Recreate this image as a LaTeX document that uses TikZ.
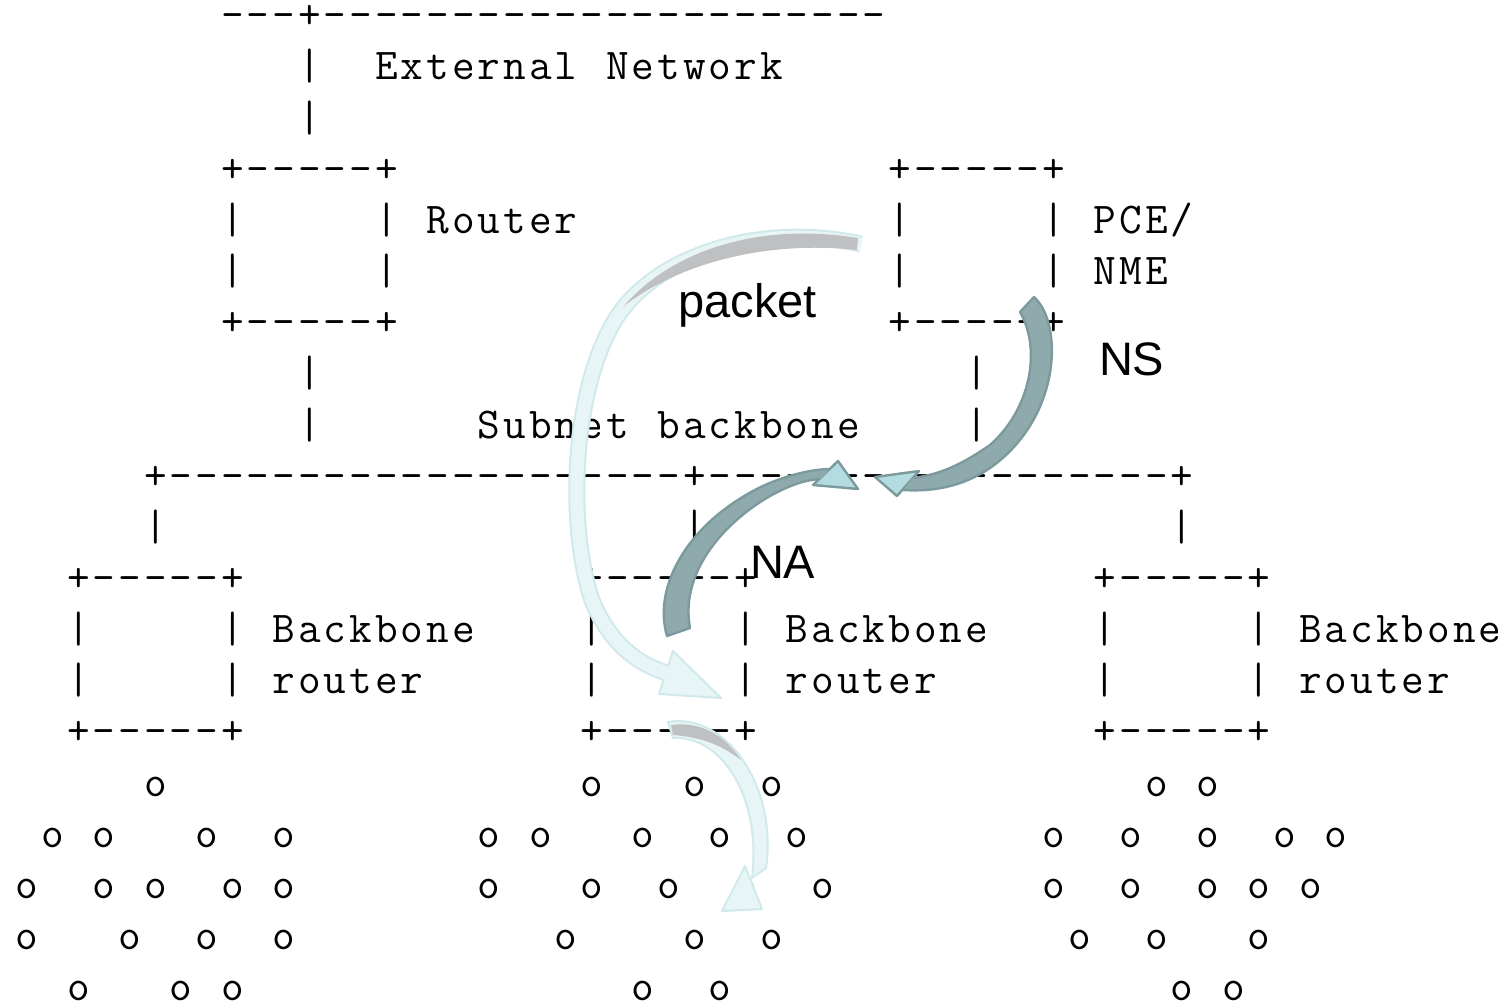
\documentclass[tikz,border=0pt]{standalone}
\usepackage{fontspec}
\setmainfont{Liberation Sans}
\definecolor{pktfill}{HTML}{E8F5F6}
\definecolor{pktedge}{HTML}{D0E9EB}
\definecolor{pktgray}{HTML}{BEC0C1}
\definecolor{nsbody}{HTML}{8FAAAD}
\definecolor{nsedge}{HTML}{7C9A9D}
\definecolor{nshead}{HTML}{B2DCE0}
\ExplSyntaxOn
\dim_new:N \l_cellw_dim
\dim_set:Nn \l_cellw_dim {12.835pt}
\NewDocumentCommand\mono{m}{\str_map_inline:nn {#1}{\makebox[\l_cellw_dim][c]{##1}}}
\ExplSyntaxOff
\tikzset{
  asc/.style={anchor=base west, inner sep=0pt, outer sep=0pt, font=\ttfamily\fontsize{22}{26}\selectfont},
  lbl/.style={anchor=base west, inner sep=0pt, outer sep=0pt, font=\fontsize{23.5}{28}\selectfont},
  darkhead/.style={fill=nshead, draw=nsedge, line width=1.2pt, line join=round},
  darkbody/.style={fill=nsbody},
  darkedge/.style={draw=nsedge, line width=1.2pt, line join=round},
  palehead/.style={fill=pktfill, draw=pktedge, line width=1pt, line join=round},
}
\newcommand\ascii[4]{\node[asc] (#1) at ({14.2+25.67*(#2)},{28.8+51.15*(#3)}) {\mono{#4}};}
\begin{document}
\begin{tikzpicture}[x=0.5pt,y=-0.5pt]
\useasboundingbox (0,0) rectangle (1510,1007);
\fill[white] (0,0) rectangle (1510,1007);
% ---------- ASCII art ----------
\ascii{top}{8}{0}{---+----------------------}
\ascii{extbar1}{11}{1}{|}
\ascii{ext}{14}{1}{External Network}
\ascii{extbar2}{11}{2}{|}
\ascii{rtA}{8}{3}{+-----+}
\ascii{pceA}{34}{3}{+-----+}
\ascii{rtL1}{8}{4}{|}
\ascii{rtR1}{14}{4}{|}
\ascii{rtlbl}{16}{4}{Router}
\ascii{pceL1}{34}{4}{|}
\ascii{pceR1}{40}{4}{|}
\ascii{pcelbl}{42}{4}{PCE/}
\ascii{rtL2}{8}{5}{|}
\ascii{rtR2}{14}{5}{|}
\ascii{pceL2}{34}{5}{|}
\ascii{pceR2}{40}{5}{|}
\ascii{nmelbl}{42}{5}{NME}
\ascii{rtB}{8}{6}{+-----+}
\ascii{pceB}{34}{6}{+-----+}
\ascii{rtv1}{11}{7}{|}
\ascii{pcev1}{37}{7}{|}
\ascii{rtv2}{11}{8}{|}
\ascii{sub}{18}{8}{Subnet backbone}
\ascii{pcev2}{37}{8}{|}
\ascii{bus}{5}{9}{+--------------------+------------------+}
\ascii{dv1}{5}{10}{|}
\ascii{dv2}{26}{10}{|}
\ascii{dv3}{45}{10}{|}
\foreach \c/\n in {2/a,22/b,42/c}{
  \ascii{bbT\n}{\c}{11}{+-----+}
  \ascii{bbL1\n}{\c}{12}{|}
  \ascii{bbR1\n}{\c+6}{12}{|}
  \ascii{bbLa\n}{\c+8}{12}{Backbone}
  \ascii{bbL2\n}{\c}{13}{|}
  \ascii{bbR2\n}{\c+6}{13}{|}
  \ascii{bbLb\n}{\c+8}{13}{router}
  \ascii{bbB\n}{\c}{14}{+-----+}
}
\foreach \c in {5,22,26,29,44,46} {\ascii{o15-\c}{\c}{15}{o}}
\foreach \c in {1,3,7,10,18,20,24,27,30,40,43,46,49,51} {\ascii{o16-\c}{\c}{16}{o}}
\foreach \c in {0,3,5,8,10,18,22,25,28,31,40,43,46,48,50} {\ascii{o17-\c}{\c}{17}{o}}
\foreach \c in {0,4,7,10,21,26,29,41,44,48} {\ascii{o18-\c}{\c}{18}{o}}
\foreach \c in {2,6,8,24,27,45,47} {\ascii{o19-\c}{\c}{19}{o}}
% ---------- packet arrow ----------
\coordinate (pktTail) at (861,244);
\coordinate (pktEnd) at (667,673);
\draw[pktedge, line width=8.5pt] (pktTail) .. controls (760,222) and (655,255) .. (615,320) .. controls (570,395) and (568,530) .. (592,600) .. controls (610,645) and (640,665) .. (pktEnd);
\filldraw[palehead] (673,651) -- (721,698) -- (659,694) -- cycle;
\draw[pktfill, line width=6.5pt] (pktTail) .. controls (760,222) and (655,255) .. (615,320) .. controls (570,395) and (568,530) .. (592,600) .. controls (610,645) and (640,665) .. (pktEnd);
\fill[pktgray] (858,238) .. controls (760,222) and (672,250) .. (624,306) .. controls (678,264) and (765,240) .. (857,250) -- cycle;
\node[lbl, anchor=base] (packet) at (747.5,317) {packet};
% ---------- NS arrow ----------
\filldraw[darkhead] (875,477) -- (919,471) -- (897,496) -- cycle;
\fill[darkbody] (1034,297) .. controls (1062,322) and (1062,410) .. (998,462) .. controls (968,486) and (935,492) .. (903,490) -- (913,478) .. controls (945,474) and (968,460) .. (990,445) .. controls (1030,410) and (1042,350) .. (1020,312) -- cycle;
\draw[darkedge] (903,490) .. controls (935,492) and (968,486) .. (998,462) .. controls (1062,410) and (1062,322) .. (1034,297) -- (1020,312) .. controls (1042,350) and (1030,410) .. (990,445) .. controls (968,460) and (945,474) .. (913,478);
\node[lbl] (ns) at (1099,375) {NS};
% ---------- NA arrow ----------
\filldraw[darkhead] (838,461) -- (858,489) -- (813,485) -- cycle;
\fill[darkbody] (667,636) .. controls (652,585) and (690,520) .. (765,485) .. controls (790,474) and (815,469) .. (830,469) -- (820,479) .. controls (805,480) and (790,485) .. (770,496) .. controls (720,525) and (680,575) .. (690,628) -- cycle;
\draw[darkedge] (830,469) .. controls (815,469) and (790,474) .. (765,485) .. controls (690,520) and (652,585) .. (667,636) -- (690,628) .. controls (680,575) and (720,525) .. (770,496) .. controls (790,485) and (805,480) .. (820,479);
\node[lbl] (na) at (750,578) {NA};
% ---------- small arrow ----------
\filldraw[palehead] (745,866) -- (762,909) -- (722,911) -- cycle;
\filldraw[fill=pktfill, draw=pktedge, line width=1pt] (668,722) .. controls (725,712) and (778,785) .. (766,868) -- (752,878) .. controls (762,795) and (720,735) .. (673,738) -- cycle;
\fill[pktgray] (671,725) .. controls (700,721) and (725,735) .. (741,760) .. controls (720,744) and (700,737) .. (673,735) -- cycle;
\end{tikzpicture}
\end{document}
